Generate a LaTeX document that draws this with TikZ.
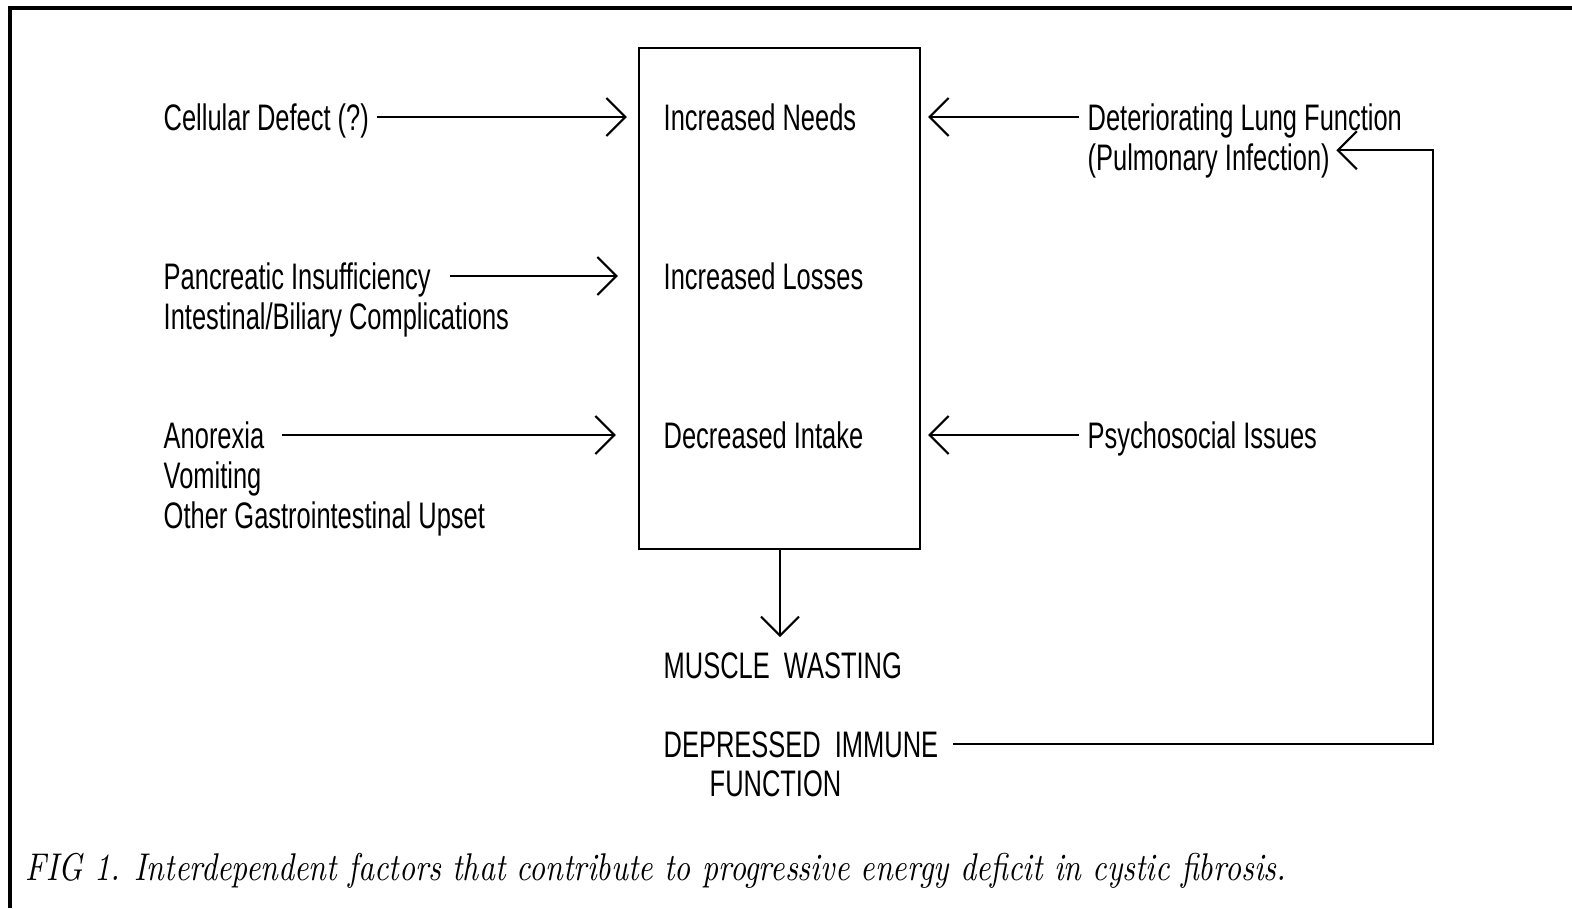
\documentclass[tikz,border=0pt]{standalone}
\usepackage{fontspec}
\usepackage{tikz}
\usetikzlibrary{arrows.meta,positioning}
\newfontfamily\helv[FakeStretch=0.69]{Liberation Sans}
\newfontfamily\capfont[FakeStretch=0.814]{Latin Modern Roman}

\tikzset{
  lbl/.style={font=\helv\fontsize{10.5}{12.6}\selectfont, inner sep=0pt,
    text height=7.5pt, text depth=0pt, anchor=west},
  arr/.style={-{Straight Barb[length=0.19cm,width=0.38cm]}, line width=0.6pt},
}

\begin{document}
\begin{tikzpicture}
  \useasboundingbox (0,0) rectangle (15.72,9.08);
  % Page frame
  \draw[line width=0.9pt] (0.10,0) -- (0.10,9.00) -- (15.72,9.00);

  % Central box
  \node[draw, line width=0.6pt, minimum width=2.81cm, minimum height=5.01cm, inner sep=0pt] (box) at (7.795,6.095) {};
  \node[lbl] (needs) at (6.63,7.91) {Increased Needs};
  \node[lbl] (losses) at (6.63,6.32) {Increased Losses};
  \node[lbl] (intake) at (6.63,4.73) {Decreased Intake};

  % Left causes
  \node[lbl] (cell) at (1.63,7.91) {Cellular Defect (?)};
  \node[lbl] (panc) at (1.63,6.32) {Pancreatic Insufficiency};
  \node[lbl, below=0.125cm of panc.south west, anchor=north west] (intest) {Intestinal/Biliary Complications};
  \node[lbl] (anor) at (1.63,4.73) {Anorexia};
  \node[lbl, below=0.125cm of anor.south west, anchor=north west] (vomit) {Vomiting};
  \node[lbl, below=0.125cm of vomit.south west, anchor=north west] (upset) {Other Gastrointestinal Upset};

  \draw[arr, shorten <=0.07cm, shorten >=0.11cm] (cell.east) -- (cell.east -| box.west);
  \draw[arr, shorten <=0.19cm, shorten >=0.20cm] (panc.east) -- (panc.east -| box.west);
  \draw[arr, shorten <=0.17cm, shorten >=0.22cm] (anor.east) -- (anor.east -| box.west);

  % Right causes
  \node[lbl] (lung) at (10.87,7.91) {Deteriorating Lung Function};
  \node[lbl, below=0.125cm of lung.south west, anchor=north west] (pulm) {(Pulmonary Infection)};
  \node[lbl] (psych) at (10.87,4.73) {Psychosocial Issues};

  \draw[arr, shorten <=0.08cm, shorten >=0.07cm] (lung.west) -- (lung.west -| box.east);
  \draw[arr, shorten <=0.08cm, shorten >=0.07cm] (psych.west) -- (psych.west -| box.east);

  % Outcomes
  \coordinate (drop) at (7.80,2.71);
  \draw[arr] (box.south -| drop) -- (drop);
  \node[lbl] (muscle) at (6.63,2.43) {MUSCLE\ \ WASTING};
  \node[lbl] (immune) at (6.63,1.64) {DEPRESSED\ \ IMMUNE};
  \node[lbl] (immfn) at (7.09,1.25) {FUNCTION};

  % Feedback loop
  \coordinate (loopx) at (14.33,0);
  \coordinate (pulmin) at ([yshift=0.07cm]pulm.east);
  \draw[arr, shorten <=0.14cm, shorten >=0.06cm] (immune.east) -| (loopx |- pulmin) -- (pulmin);

  % Caption
  \node[anchor=west, inner sep=0pt, font=\capfont\itshape\fontsize{11}{13}\selectfont] (cap) at (0.25,0.37)
    {FIG 1. Interdependent factors that contribute to progressive energy deficit in cystic fibrosis.};
\end{tikzpicture}
\end{document}
